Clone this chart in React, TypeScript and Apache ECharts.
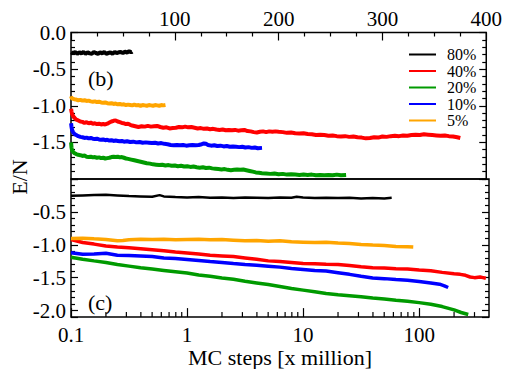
import React, { useEffect, useRef } from 'react';
import * as echarts from 'echarts';

// Legend / series names and colours
const seriesNames = ['80%', '40%', '20%', '10%', '5%'];
const seriesColors = ['#000000', '#ff0000', '#009a00', '#0000ff', '#ffa500'];

// Panel (b): linear time axis [x million MC steps], E/N
const b80 = [[0.1,-0.27],[2,-0.285],[4,-0.265],[6,-0.29],[8,-0.27],[10,-0.285],[12,-0.265],[14,-0.29],[16,-0.27],[18,-0.285],[20,-0.29],[22,-0.265],[24,-0.28],[26,-0.29],[28,-0.27],[30,-0.285],[32,-0.265],[34,-0.29],[36,-0.28],[38,-0.27],[40,-0.29],[42,-0.265],[44,-0.28],[46,-0.27],[48,-0.265],[50,-0.28],[52,-0.26],[54,-0.275],[56,-0.255],[58,-0.27],[59,-0.26]];
const b40 = [[0.1,-1.04],[0.5,-1.08],[1,-1.11],[2,-1.14],[3,-1.16],[5,-1.19],[7,-1.2],[9,-1.215],[11,-1.22],[13,-1.235],[15,-1.225],[17,-1.24],[19,-1.23],[21,-1.245],[23,-1.24],[25,-1.25],[27,-1.245],[29,-1.255],[31,-1.25],[33,-1.255],[35,-1.245],[37,-1.23],[39,-1.215],[41,-1.205],[43,-1.2],[45,-1.215],[47,-1.225],[49,-1.235],[51,-1.24],[53,-1.25],[55,-1.245],[57,-1.26],[59,-1.27],[62,-1.28],[65,-1.29],[68,-1.28],[71,-1.285],[74,-1.275],[77,-1.285],[80,-1.28],[83,-1.275],[86,-1.29],[89,-1.3],[92,-1.295],[95,-1.31],[98,-1.305],[101,-1.3],[104,-1.29],[107,-1.295],[110,-1.285],[113,-1.295],[116,-1.29],[119,-1.3],[122,-1.31],[125,-1.305],[128,-1.315],[131,-1.31],[134,-1.32],[137,-1.315],[140,-1.325],[143,-1.33],[146,-1.325],[149,-1.335],[152,-1.33],[155,-1.335],[158,-1.33],[161,-1.34],[164,-1.335],[167,-1.33],[170,-1.345],[173,-1.35],[176,-1.36],[179,-1.365],[182,-1.355],[185,-1.35],[188,-1.36],[191,-1.35],[194,-1.355],[197,-1.35],[200,-1.355],[204,-1.36],[208,-1.37],[212,-1.365],[216,-1.375],[220,-1.38],[224,-1.375],[228,-1.385],[232,-1.39],[236,-1.4],[240,-1.395],[244,-1.4],[248,-1.41],[252,-1.405],[256,-1.415],[260,-1.42],[264,-1.415],[268,-1.425],[272,-1.42],[276,-1.43],[280,-1.435],[284,-1.445],[288,-1.44],[292,-1.43],[296,-1.435],[300,-1.42],[304,-1.425],[308,-1.415],[312,-1.41],[316,-1.415],[320,-1.405],[324,-1.41],[328,-1.4],[332,-1.395],[336,-1.4],[340,-1.39],[344,-1.395],[348,-1.4],[352,-1.405],[356,-1.41],[360,-1.405],[364,-1.415],[368,-1.42],[372,-1.43],[375,-1.44]];
const b20 = [[0.1,-1.5],[0.5,-1.57],[1,-1.61],[2,-1.63],[3,-1.645],[5,-1.66],[7,-1.67],[9,-1.675],[11,-1.685],[13,-1.68],[15,-1.695],[17,-1.7],[19,-1.695],[21,-1.705],[23,-1.7],[25,-1.71],[27,-1.705],[29,-1.715],[31,-1.71],[33,-1.72],[35,-1.715],[37,-1.71],[39,-1.7],[41,-1.695],[43,-1.7],[45,-1.695],[47,-1.705],[49,-1.7],[51,-1.71],[53,-1.72],[55,-1.725],[58,-1.735],[61,-1.745],[64,-1.755],[67,-1.765],[70,-1.775],[73,-1.785],[76,-1.79],[79,-1.8],[82,-1.805],[85,-1.81],[88,-1.805],[91,-1.815],[94,-1.81],[97,-1.82],[100,-1.815],[103,-1.825],[106,-1.82],[109,-1.83],[112,-1.825],[115,-1.835],[118,-1.83],[121,-1.84],[124,-1.845],[127,-1.84],[130,-1.85],[133,-1.845],[136,-1.855],[139,-1.86],[142,-1.865],[145,-1.87],[148,-1.865],[151,-1.875],[154,-1.88],[157,-1.875],[160,-1.87],[163,-1.875],[166,-1.87],[169,-1.88],[172,-1.89],[175,-1.9],[178,-1.91],[181,-1.915],[184,-1.92],[188,-1.925],[192,-1.93],[196,-1.925],[200,-1.935],[204,-1.93],[208,-1.94],[212,-1.935],[216,-1.94],[220,-1.945],[224,-1.94],[228,-1.945],[232,-1.94],[236,-1.95],[240,-1.945],[244,-1.95],[248,-1.945],[252,-1.95],[256,-1.94],[260,-1.95],[265,-1.945]];
const b10 = [[0.1,-1.24],[0.5,-1.29],[1,-1.33],[2,-1.36],[3,-1.38],[5,-1.4],[7,-1.415],[9,-1.425],[11,-1.43],[13,-1.44],[15,-1.435],[17,-1.445],[19,-1.44],[21,-1.45],[23,-1.455],[25,-1.45],[27,-1.46],[29,-1.465],[31,-1.46],[33,-1.47],[35,-1.465],[37,-1.475],[39,-1.47],[41,-1.48],[43,-1.475],[45,-1.48],[47,-1.485],[49,-1.48],[51,-1.49],[54,-1.485],[57,-1.495],[60,-1.49],[63,-1.5],[66,-1.495],[69,-1.505],[72,-1.5],[75,-1.505],[78,-1.51],[81,-1.505],[84,-1.515],[87,-1.51],[90,-1.52],[93,-1.525],[96,-1.535],[99,-1.54],[102,-1.535],[105,-1.54],[108,-1.535],[111,-1.545],[114,-1.54],[117,-1.535],[120,-1.54],[123,-1.535],[126,-1.525],[128,-1.515],[130,-1.52],[132,-1.535],[135,-1.545],[138,-1.54],[141,-1.55],[144,-1.545],[147,-1.555],[150,-1.55],[153,-1.56],[156,-1.555],[159,-1.56],[162,-1.565],[165,-1.56],[168,-1.57],[171,-1.565],[174,-1.575],[177,-1.57],[180,-1.58],[184,-1.575]];
const b5 = [[0.1,-0.87],[0.5,-0.89],[1,-0.9],[2,-0.905],[3,-0.91],[5,-0.915],[7,-0.925],[9,-0.92],[11,-0.93],[13,-0.925],[15,-0.935],[17,-0.93],[19,-0.94],[21,-0.945],[23,-0.94],[25,-0.95],[27,-0.945],[29,-0.955],[31,-0.96],[33,-0.955],[35,-0.965],[37,-0.97],[39,-0.965],[41,-0.975],[43,-0.97],[45,-0.98],[47,-0.975],[49,-0.985],[51,-0.98],[53,-0.99],[55,-0.985],[57,-0.99],[59,-0.995],[61,-0.985],[63,-0.995],[65,-0.99],[67,-1.0],[69,-0.99],[71,-0.995],[73,-1.0],[75,-0.99],[77,-0.995],[79,-1.0],[81,-0.99],[83,-0.995],[85,-1.0],[87,-0.99],[89,-0.995],[91,-0.99]];

// Panel (c): logarithmic time axis
const c80 = [[0.1,-0.255],[0.126,-0.25],[0.158,-0.245],[0.2,-0.24],[0.251,-0.25],[0.316,-0.26],[0.398,-0.265],[0.501,-0.27],[0.58,-0.245],[0.631,-0.265],[0.794,-0.275],[1,-0.28],[1.26,-0.275],[1.58,-0.285],[2,-0.28],[2.51,-0.29],[3.16,-0.28],[3.98,-0.285],[5.01,-0.29],[6.31,-0.28],[7.94,-0.285],[8.8,-0.27],[10,-0.28],[12.6,-0.29],[15.8,-0.285],[20,-0.29],[25.1,-0.285],[31.6,-0.295],[39.8,-0.29],[50.1,-0.295],[58,-0.285]];
const c40 = [[0.1,-0.92],[0.126,-0.965],[0.158,-0.99],[0.2,-1.02],[0.251,-1.035],[0.316,-1.045],[0.398,-1.06],[0.501,-1.075],[0.631,-1.09],[0.794,-1.11],[1,-1.125],[1.26,-1.14],[1.58,-1.16],[2,-1.17],[2.51,-1.18],[3.16,-1.2],[3.98,-1.22],[5.01,-1.245],[6.31,-1.255],[7.94,-1.27],[10,-1.285],[12.6,-1.29],[15.8,-1.295],[20,-1.3],[25.1,-1.315],[31.6,-1.335],[39.8,-1.35],[50.1,-1.355],[63.1,-1.365],[79.4,-1.37],[100,-1.385],[126,-1.395],[158,-1.42],[200,-1.44],[226,-1.45],[251,-1.465],[275,-1.49],[300,-1.5],[335,-1.49],[355,-1.5],[376,-1.51]];
const c20 = [[0.1,-1.19],[0.126,-1.22],[0.158,-1.245],[0.2,-1.27],[0.251,-1.3],[0.316,-1.325],[0.398,-1.35],[0.501,-1.37],[0.631,-1.39],[0.794,-1.41],[1,-1.43],[1.26,-1.46],[1.58,-1.48],[2,-1.505],[2.51,-1.525],[3.16,-1.555],[3.98,-1.58],[5.01,-1.605],[6.31,-1.635],[7.94,-1.665],[10,-1.69],[12.6,-1.715],[15.8,-1.74],[20,-1.76],[25.1,-1.775],[31.6,-1.79],[39.8,-1.81],[50.1,-1.825],[63.1,-1.845],[79.4,-1.86],[100,-1.88],[126,-1.905],[158,-1.94],[200,-1.99],[230,-2.03],[265,-2.06]];
const c10 = [[0.1,-1.12],[0.126,-1.145],[0.158,-1.14],[0.2,-1.13],[0.251,-1.16],[0.316,-1.165],[0.398,-1.17],[0.501,-1.18],[0.631,-1.2],[0.794,-1.21],[1,-1.225],[1.26,-1.24],[1.58,-1.255],[2,-1.27],[2.51,-1.285],[3.16,-1.3],[3.98,-1.31],[5.01,-1.325],[6.31,-1.34],[7.94,-1.36],[10,-1.375],[12.6,-1.39],[15.8,-1.4],[20,-1.425],[25.1,-1.45],[31.6,-1.48],[39.8,-1.505],[50.1,-1.515],[63.1,-1.53],[79.4,-1.54],[100,-1.56],[126,-1.58],[150,-1.6],[165,-1.625],[178,-1.65]];
const c5 = [[0.1,-0.905],[0.126,-0.9],[0.158,-0.91],[0.2,-0.92],[0.251,-0.94],[0.28,-0.935],[0.316,-0.925],[0.398,-0.915],[0.501,-0.92],[0.631,-0.915],[0.794,-0.925],[1,-0.92],[1.26,-0.915],[1.58,-0.925],[2,-0.92],[2.51,-0.93],[3.16,-0.94],[3.98,-0.935],[5.01,-0.945],[6.31,-0.94],[7.94,-0.955],[10,-0.96],[12.6,-0.965],[15.8,-0.96],[20,-0.975],[25.1,-0.98],[31.6,-0.995],[39.8,-1.005],[50.1,-1.01],[63.1,-1.025],[79.4,-1.03],[89,-1.035]];

// Minor ticks of the logarithmic axis
const logMinorTicks = [0.2,0.3,0.4,0.5,0.6,0.7,0.8,0.9,2,3,4,5,6,7,8,9,20,30,40,50,60,70,80,90,200,300];

const panelB = [b80, b40, b20, b10, b5];
const panelC = [c80, c40, c20, c10, c5];

const FONT = 'Liberation Serif';

export default function App() {
  const ref = useRef<HTMLDivElement>(null);
  useEffect(() => {
    if (!ref.current) return;
    const chart = echarts.init(ref.current, undefined, { renderer: 'svg' });
    const tickStyle = { color: '#000', width: 1.2 };
    const labelStyle = { fontFamily: FONT, fontSize: 21, color: '#000' };
    const yBase = (gridIndex: number, position: string, showLabel: boolean, extra: any) => ({
      gridIndex,
      type: 'value',
      position,
      axisLine: { show: false, onZero: false },
      axisTick: { show: true, inside: true, length: 7, lineStyle: tickStyle },
      minorTick: { show: true, splitNumber: 5, length: 4, lineStyle: tickStyle },
      splitLine: { show: false },
      minorSplitLine: { show: false },
      min: extra.min, max: extra.max, interval: extra.interval, splitNumber: extra.splitNumber,
      axisLabel: { show: showLabel, ...labelStyle, margin: 5, formatter: extra.fmt },
    });
    const topFmt = (v: number) => (v <= -1.99 ? '' : v.toFixed(1));
    const botFmt = (v: number) => {
      const ok = Math.abs(v * 2 - Math.round(v * 2)) < 1e-6 && v > -2.05 && v < -0.05;
      return ok ? v.toFixed(1) : '';
    };
    const logFmt = (v: number) => {
      const l = Math.log10(v);
      if (Math.abs(l - Math.round(l)) > 1e-6) return '';
      return v < 1 ? '0.1' : String(Math.round(v));
    };

    const series: any[] = [];
    panelB.forEach((d, i) => {
      series.push({
        type: 'line', name: seriesNames[i], xAxisIndex: 0, yAxisIndex: 0, data: d,
        showSymbol: false, symbol: 'none',
        itemStyle: { color: seriesColors[i] },
        lineStyle: { color: seriesColors[i], width: 4 },
      });
    });
    panelC.forEach((d, i) => {
      series.push({
        type: 'line', name: seriesNames[i], xAxisIndex: 1, yAxisIndex: 2, data: d,
        showSymbol: false, symbol: 'none',
        itemStyle: { color: seriesColors[i] },
        lineStyle: { color: seriesColors[i], width: i === 0 ? 2.5 : 3.5 },
      });
    });
    series.push({
      type: 'custom', name: 'minorTicks', xAxisIndex: 1, yAxisIndex: 2, clip: false, silent: true,
      data: logMinorTicks.map((v) => [v, -2.1]),
      renderItem: (params: any, api: any) => {
        const p = api.coord([api.value(0), -2.1]);
        return { type: 'line', shape: { x1: p[0], y1: p[1], x2: p[0], y2: p[1] - 5 }, style: { stroke: '#000', lineWidth: 1.2 } };
      },
    });

    chart.setOption({
      animation: false,
      backgroundColor: '#ffffff',
      textStyle: { fontFamily: FONT },
      grid: [
        { left: 71, top: 32.5, width: 418, height: 146.5, show: true, borderColor: '#000', borderWidth: 1.5 },
        { left: 71, top: 179, width: 418, height: 146, show: true, borderColor: '#000', borderWidth: 1.5 },
      ],
      xAxis: [
        {
          gridIndex: 0, type: 'value', position: 'top', min: 0, max: 400, interval: 100,
          axisLine: { show: false, onZero: false },
          axisTick: { show: true, inside: true, length: 8, lineStyle: tickStyle },
          minorTick: { show: true, splitNumber: 4, length: 4, lineStyle: tickStyle },
          axisLabel: { ...labelStyle, margin: 3, formatter: (v: number) => (v === 0 ? '' : String(v)) },
          splitLine: { show: false }, minorSplitLine: { show: false },
        },
        {
          gridIndex: 1, type: 'log', logBase: 10, min: 0.1, max: 400, position: 'bottom',
          axisLine: { show: false, onZero: false },
          axisTick: { show: true, inside: true, length: 9, lineStyle: tickStyle },
          axisLabel: { ...labelStyle, margin: 7, formatter: logFmt, showMaxLabel: false },
          splitLine: { show: false },
          name: 'MC steps [x million]', nameLocation: 'middle', nameGap: 21,
          nameTextStyle: { fontFamily: FONT, fontSize: 22, color: '#000' },
        },
      ],
      yAxis: [
        yBase(0, 'left', true, { min: -2, max: 0, interval: 0.5, fmt: topFmt }),
        yBase(0, 'right', false, { min: -2, max: 0, interval: 0.5, fmt: topFmt }),
        yBase(1, 'left', true, { min: -2.1, max: 0, splitNumber: 4, fmt: botFmt }),
        yBase(1, 'right', false, { min: -2.1, max: 0, splitNumber: 4, fmt: botFmt }),
      ],
      legend: {
        data: seriesNames, orient: 'vertical', left: 409, top: 46.5, padding: 0,
        itemWidth: 27, itemHeight: 2, itemGap: 0.5, icon: 'rect', selectedMode: false,
        textStyle: { fontFamily: FONT, fontSize: 16, color: '#000', lineHeight: 15, padding: [0, 0, 0, 6] },
      },
      graphic: [
        { type: 'text', left: 88, top: 67, style: { text: '(b)', font: `22px ${FONT}`, fill: '#000' } },
        { type: 'text', left: 88, top: 291, style: { text: '(c)', font: `22px ${FONT}`, fill: '#000' } },
        {
          type: 'text', x: 19, y: 177, rotation: Math.PI / 2,
          style: { text: 'E/N', font: `22px ${FONT}`, fill: '#000', align: 'center', verticalAlign: 'middle', textAlign: 'center', textVerticalAlign: 'middle' },
        },
      ],
      series,
    });
    return () => chart.dispose();
  }, []);
  return <div ref={ref} style={{ position: 'fixed', left: 0, top: 0, width: 505, height: 369, background: '#fff' }} />;
}
